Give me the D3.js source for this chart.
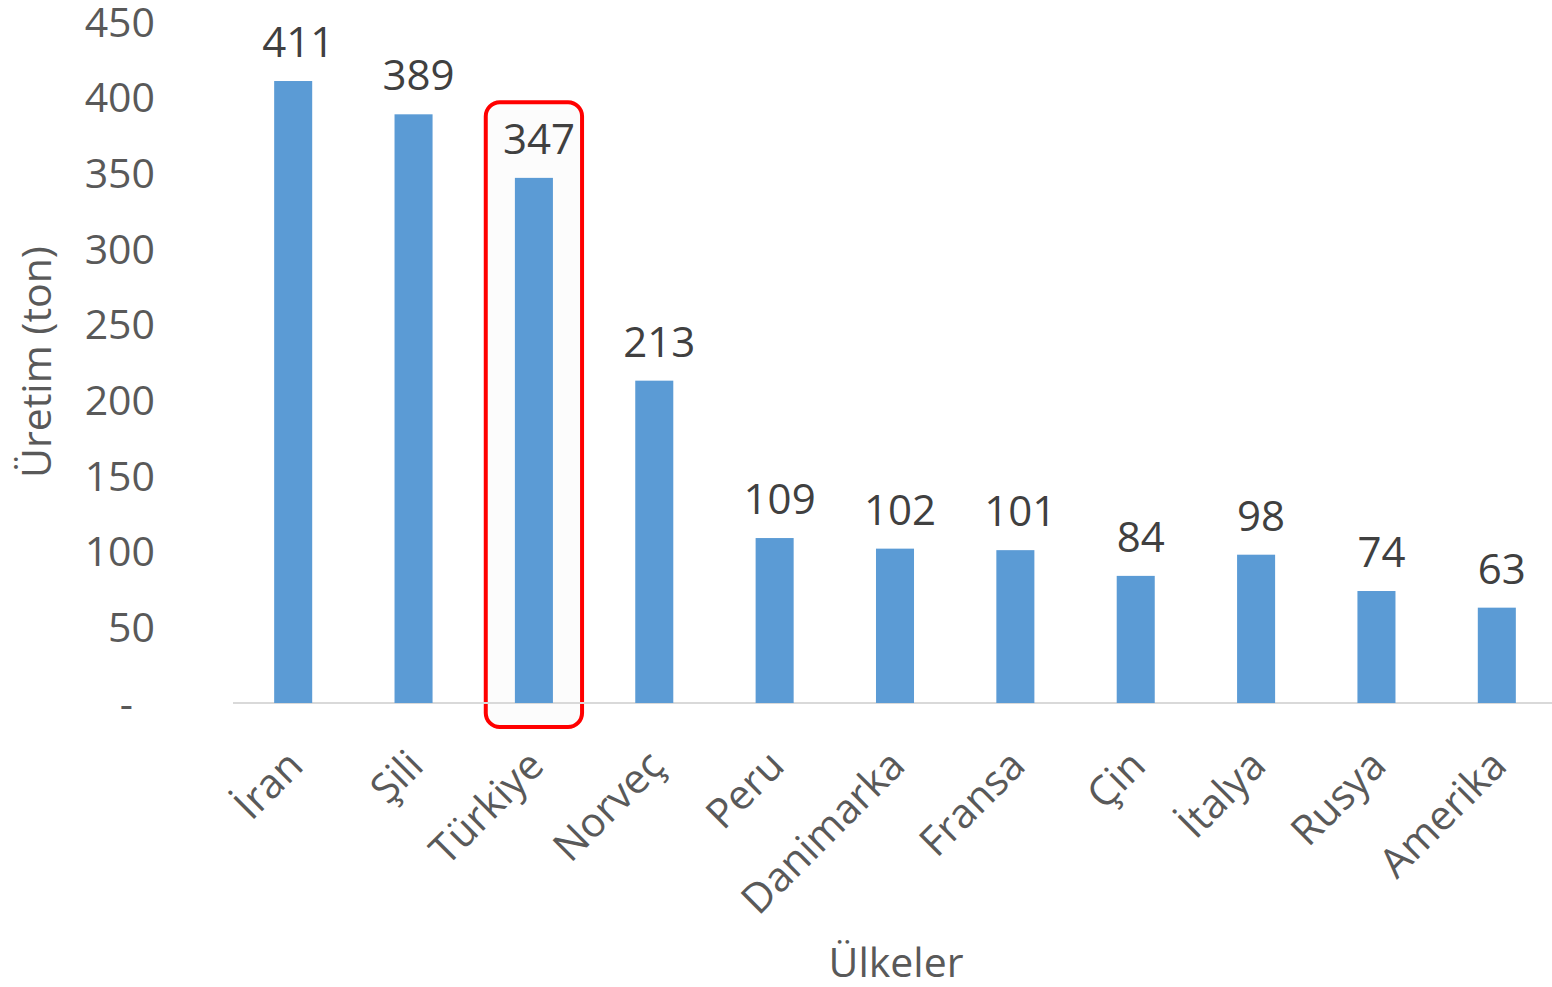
<!DOCTYPE html>
<html lang="tr">
<head>
<meta charset="UTF-8">
<title>Üretim (ton)</title>
<script src="https://d3js.org/d3.v7.min.js"></script>
<style>
    body { margin: 0; background: #fff; }
    svg { display: block; font-family: 'Open Sans', sans-serif; }
    .tick-label { fill: #595959; font-size: 41px; }
    .value-label { fill: #404040; font-size: 42px; }
    .axis-title { fill: #595959; font-size: 41px; }
</style>
</head>
<body>
<svg id="chart" width="1552" height="987"></svg>
<script>
    // Data
    const countries = ["İran", "Şili", "Türkiye", "Norveç", "Peru", "Danimarka", "Fransa", "Çin", "İtalya", "Rusya", "Amerika"];
    const production = [411, 389, 347, 213, 109, 102, 101, 84, 98, 74, 63];
    const yTicks = [0, 50, 100, 150, 200, 250, 300, 350, 400, 450];
    const highlight = "Türkiye";

    const svg = d3.select("#chart");

    const x = d3.scaleBand()
        .domain(countries)
        .range([233, 1557])
        .paddingInner(0.684)
        .paddingOuter(0.342);

    const y = d3.scaleLinear().domain([0, 450]).range([703, 22]);

    // y tick labels (no axis line, no ticks), zero shown as a dash
    svg.append("g")
        .selectAll("text")
        .data(yTicks)
        .join("text")
        .attr("class", "tick-label")
        .attr("x", d => d === 0 ? 133 : 155)
        .attr("y", d => y(d))
        .attr("dy", "0.36em")
        .attr("text-anchor", "end")
        .text(d => d === 0 ? "-" : d);

    // highlight box
    const hv = production[countries.indexOf(highlight)];
    const hx = x(highlight) + x.bandwidth() / 2;
    svg.append("rect")
        .attr("x", hx - x.step() * 0.4)
        .attr("y", y(hv + 50))
        .attr("width", x.step() * 0.8)
        .attr("height", y(0) + 24 - y(hv + 50))
        .attr("rx", 14)
        .attr("fill", "#fcfcfc")
        .attr("stroke", "#ff0000")
        .attr("stroke-width", 4);

    // baseline
    svg.append("line")
        .attr("x1", x.range()[0])
        .attr("x2", x.range()[1])
        .attr("y1", y(0))
        .attr("y2", y(0))
        .attr("stroke", "#d9d9d9")
        .attr("stroke-width", 2);

    // bars
    svg.append("g")
        .selectAll("rect")
        .data(countries)
        .join("rect")
        .attr("x", d => x(d))
        .attr("y", (d, i) => y(production[i]))
        .attr("width", x.bandwidth())
        .attr("height", (d, i) => y(0) - y(production[i]))
        .attr("fill", "#5b9bd5");

    // value labels
    svg.append("g")
        .selectAll("text")
        .data(countries)
        .join("text")
        .attr("class", "value-label")
        .attr("x", d => x(d) + x.bandwidth() / 2 + 5)
        .attr("y", (d, i) => y(production[i]) - 24)
        .attr("text-anchor", "middle")
        .text((d, i) => production[i]);

    // category labels, rotated
    svg.append("g")
        .selectAll("text")
        .data(countries)
        .join("text")
        .attr("class", "tick-label")
        .attr("text-anchor", "end")
        .attr("transform", d => `translate(${x(d) + x.bandwidth() / 2 + 12},${768}) rotate(-45)`)
        .text(d => d);

    // axis titles
    svg.append("text")
        .attr("class", "axis-title")
        .attr("x", 896)
        .attr("y", 977)
        .attr("text-anchor", "middle")
        .text("Ülkeler");

    svg.append("text")
        .attr("class", "axis-title")
        .attr("transform", "translate(51,362) rotate(-90)")
        .attr("text-anchor", "middle")
        .text("Üretim (ton)");
</script>
</body>
</html>
